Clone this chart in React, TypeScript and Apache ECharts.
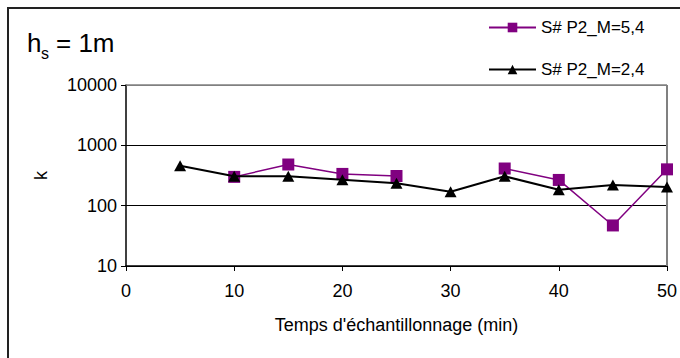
import React, { useEffect, useRef } from "react";
import * as echarts from "echarts";

const xValues = [5, 10, 15, 20, 25, 30, 35, 40, 45, 50];
const seriesM54 = [null, 300, 481, 336, 310, null, 413, 267, 47, 400];
const seriesM24 = [457, 307, 307, 270, 235, 170, 307, 183, 221, 203];
const seriesNames = ["S# P2_M=5,4", "S# P2_M=2,4"];
const xAxisTitle = "Temps d'échantillonnage (min)";
const yAxisTitle = "k";

const FONT = "'Liberation Sans', Arial, sans-serif";

function toPairs(vals: (number | null)[]) {
  return vals.map((v, i) => (v === null ? [xValues[i], "-"] : [xValues[i], v]));
}

export default function App() {
  const ref = useRef<HTMLDivElement>(null);
  useEffect(() => {
    if (!ref.current) return;
    const chart = echarts.init(ref.current, undefined, { renderer: "svg" });
    chart.setOption({
      animation: false,
      backgroundColor: "#ffffff",
      textStyle: { fontFamily: FONT },
      grid: { left: 126, right: 13, top: 85, bottom: 92, show: false },
      legend: {
        orient: "vertical",
        left: 488,
        top: 19,
        padding: 0,
        itemWidth: 47,
        itemHeight: 12,
        itemGap: 25,
        textStyle: { fontSize: 17, color: "#000", fontFamily: FONT },
        data: seriesNames,
      },
      graphic: [
        {
          type: "rect",
          shape: { x: 8, y: 8, width: 720, height: 420 },
          style: { fill: "none", stroke: "#222", lineWidth: 2 },
          silent: true,
        },
        {
          type: "line",
          shape: { x1: 126, y1: 85, x2: 667, y2: 85 },
          style: { stroke: "#808080", lineWidth: 1.5 },
          z: 10,
        },
        {
          type: "line",
          shape: { x1: 667, y1: 85, x2: 667, y2: 266 },
          style: { stroke: "#808080", lineWidth: 2 },
          z: 1,
        },
        {
          type: "text",
          left: 27,
          top: 30,
          style: { text: "h", fontSize: 26, fontFamily: FONT, fill: "#000" },
        },
        {
          type: "text",
          left: 41,
          top: 45,
          style: { text: "s", fontSize: 16, fontFamily: FONT, fill: "#000" },
        },
        {
          type: "text",
          left: 56,
          top: 30,
          style: { text: "= 1m", fontSize: 26, fontFamily: FONT, fill: "#000" },
        },
      ],
      xAxis: {
        type: "value",
        min: 0,
        max: 50,
        interval: 10,
        name: xAxisTitle,
        nameLocation: "middle",
        nameGap: 50,
        nameTextStyle: { fontSize: 18, color: "#000", fontFamily: FONT },
        axisLine: { show: true, onZero: false, lineStyle: { color: "#000", width: 1.5 } },
        axisTick: { show: true, inside: false, length: 5, lineStyle: { color: "#000", width: 1 } },
        axisLabel: { fontSize: 18, color: "#000", margin: 16, fontFamily: FONT },
        splitLine: { show: false },
      },
      yAxis: {
        type: "log",
        logBase: 10,
        min: 10,
        max: 10000,
        name: yAxisTitle,
        nameLocation: "middle",
        nameGap: 76,
        nameTextStyle: { fontSize: 18, color: "#000", fontFamily: FONT },
        axisLine: { show: true, lineStyle: { color: "#000", width: 1.5 } },
        axisTick: { show: true, inside: false, length: 5, lineStyle: { color: "#000", width: 1 } },
        axisLabel: {
          fontSize: 18,
          color: "#000",
          margin: 9,
          fontFamily: FONT,
          formatter: (v: number) => String(Math.round(v)),
        },
        splitLine: { show: true, lineStyle: { color: ["#000", "#000", "#000", "#808080"], width: 1 } },
        minorTick: { show: false },
      },
      series: [
        {
          name: seriesNames[0],
          type: "line",
          data: toPairs(seriesM54),
          connectNulls: false,
          symbol: "rect",
          symbolSize: 12,
          clip: false,
          itemStyle: { color: "#800080" },
          lineStyle: { color: "#800080", width: 1.5 },
          z: 3,
        },
        {
          name: seriesNames[1],
          type: "line",
          data: toPairs(seriesM24),
          symbol: "triangle",
          symbolSize: [12, 11],
          clip: false,
          itemStyle: { color: "#000" },
          lineStyle: { color: "#000", width: 2 },
          z: 4,
        },
      ],
    });
    return () => chart.dispose();
  }, []);
  return (
    <div
      ref={ref}
      style={{ position: "fixed", left: 0, top: 0, width: 680, height: 358 }}
    />
  );
}
